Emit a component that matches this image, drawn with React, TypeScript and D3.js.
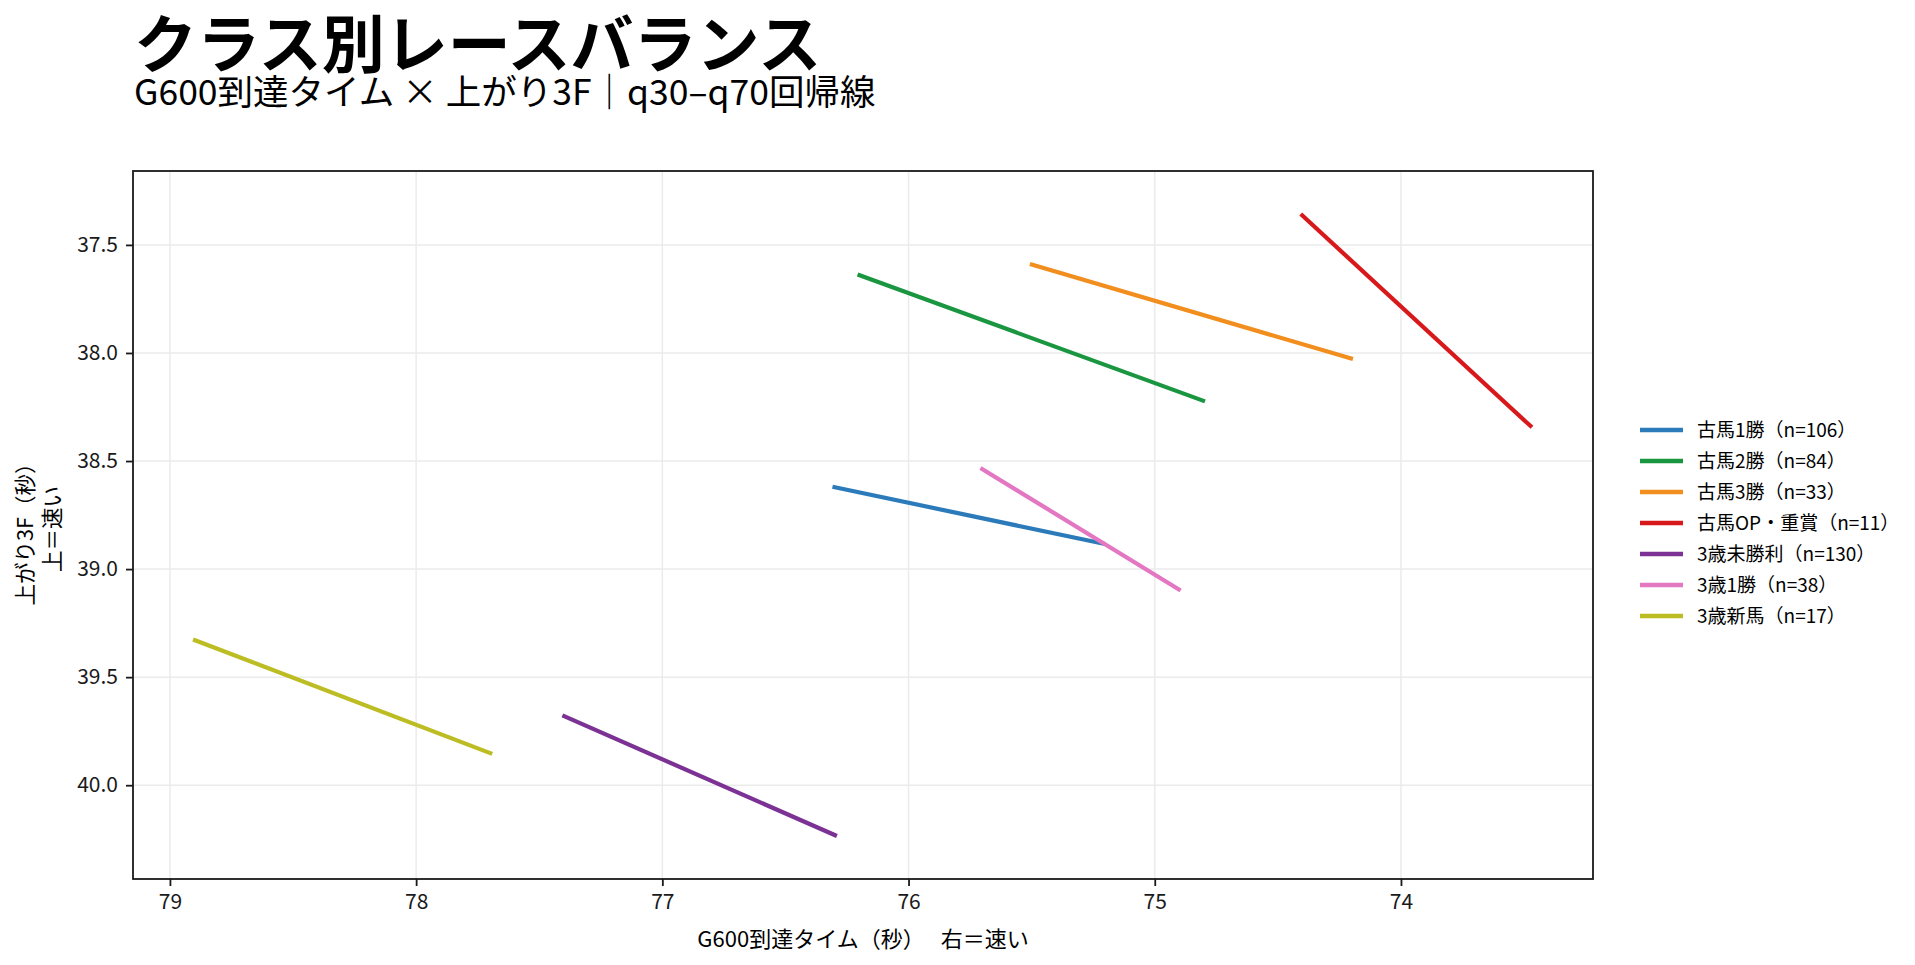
import { useEffect, useRef } from 'react'
import * as d3 from 'd3'

const classNames = ['古馬1勝', '古馬2勝', '古馬3勝', '古馬OP・重賞', '3歳未勝利', '3歳1勝', '3歳新馬']
const counts = [106, 84, 33, 11, 130, 38, 17]
// regression line endpoints (G600 time, last 3F)
const startX = [76.309, 76.207, 75.507, 74.407, 77.406, 75.708, 78.906]
const startY = [38.619, 37.637, 37.588, 37.357, 39.677, 38.532, 39.326]
const endX = [75.202, 74.796, 74.195, 73.468, 76.291, 74.895, 77.691]
const endY = [38.884, 38.224, 38.028, 38.344, 40.235, 39.099, 39.855]
const lineColors = ['#2b7bba', '#1a9641', '#f28e1e', '#d7191c', '#7b3294', '#e377c2', '#bcbd22']

const xTicks = [79, 78, 77, 76, 75, 74]
const yTicks = [37.5, 38.0, 38.5, 39.0, 39.5, 40.0]

const W = 1915
const H = 965
const FONT = '"Noto Sans CJK JP", "Noto Sans", sans-serif'

export default function App() {
  const svgRef = useRef<SVGSVGElement>(null)

  useEffect(() => {
    if (!svgRef.current) return
    const svg = d3.select(svgRef.current)
    svg.selectAll('*').remove()

    const plot = { left: 133, right: 1593, top: 171, bottom: 879 }

    // x axis is reversed: right = faster
    const x = d3.scaleLinear().domain([79.15, 73.22]).range([plot.left, plot.right])
    const y = d3.scaleLinear().domain([37.158, 40.434]).range([plot.top, plot.bottom])

    svg.append('rect').attr('width', W).attr('height', H).attr('fill', 'white')

    // title
    svg.append('text')
      .attr('x', 134).attr('y', 67)
      .attr('font-family', FONT).attr('font-size', 63).attr('font-weight', 700)
      .attr('fill', '#000')
      .text('クラス別レースバランス')

    svg.append('text')
      .attr('x', 134).attr('y', 105)
      .attr('font-family', FONT).attr('font-size', 35.5)
      .attr('fill', '#000')
      .text('G600到達タイム × 上がり3F｜q30–q70回帰線')

    // grid
    const grid = svg.append('g').attr('stroke', '#ebebeb').attr('stroke-width', 1.5)
    xTicks.forEach(t => {
      grid.append('line')
        .attr('x1', x(t)).attr('x2', x(t))
        .attr('y1', plot.top).attr('y2', plot.bottom)
    })
    yTicks.forEach(t => {
      grid.append('line')
        .attr('x1', plot.left).attr('x2', plot.right)
        .attr('y1', y(t)).attr('y2', y(t))
    })

    // regression lines
    classNames.forEach((_, i) => {
      svg.append('line')
        .attr('x1', x(startX[i])).attr('y1', y(startY[i]))
        .attr('x2', x(endX[i])).attr('y2', y(endY[i]))
        .attr('stroke', lineColors[i])
        .attr('stroke-width', 4.2)
    })

    // frame
    svg.append('rect')
      .attr('x', plot.left).attr('y', plot.top)
      .attr('width', plot.right - plot.left).attr('height', plot.bottom - plot.top)
      .attr('fill', 'none').attr('stroke', '#1a1a1a').attr('stroke-width', 1.8)

    // axes
    const xAxis = svg.append('g')
      .attr('transform', `translate(0,${plot.bottom})`)
      .call(d3.axisBottom(x).tickValues(xTicks).tickSize(7).tickPadding(8).tickFormat(d => `${d}`))
    const yAxis = svg.append('g')
      .attr('transform', `translate(${plot.left},0)`)
      .call(d3.axisLeft(y).tickValues(yTicks).tickSize(7).tickPadding(8).tickFormat(d3.format('.1f')))

    ;[xAxis, yAxis].forEach(a => {
      a.select('.domain').remove()
      a.selectAll('line').attr('stroke', '#1a1a1a').attr('stroke-width', 1.8)
      a.selectAll('text')
        .attr('font-family', FONT).attr('font-size', 21).attr('fill', '#1a1a1a')
    })

    // axis labels
    svg.append('text')
      .attr('x', (plot.left + plot.right) / 2).attr('y', 947)
      .attr('text-anchor', 'middle')
      .attr('font-family', FONT).attr('font-size', 22).attr('fill', '#000')
      .text('G600到達タイム（秒）　 右＝速い')

    const yLabel = ['上がり3F（秒）', '上＝速い']
    yLabel.forEach((t, i) => {
      svg.append('text')
        .attr('transform', `translate(${25 + i * 27},${(plot.top + plot.bottom) / 2 + 4}) rotate(-90)`)
        .attr('dy', '0.35em')
        .attr('text-anchor', 'middle')
        .attr('font-family', FONT).attr('font-size', 21.5).attr('fill', '#000')
        .text(t)
    })

    // legend
    const legend = svg.append('g').attr('transform', 'translate(1640,430)')
    classNames.forEach((name, i) => {
      const row = legend.append('g').attr('transform', `translate(0,${i * 31})`)
      row.append('line')
        .attr('x1', 0).attr('x2', 43)
        .attr('stroke', lineColors[i]).attr('stroke-width', 4.5)
      row.append('text')
        .attr('x', 57).attr('dy', '0.35em')
        .attr('font-family', FONT).attr('font-size', 19).attr('fill', '#000')
        .text(`${name}（n=${counts[i]}）`)
    })
  }, [])

  return (
    <svg
      ref={svgRef}
      width={W}
      height={H}
      style={{ position: 'absolute', left: 0, top: 0 }}
    />
  )
}
